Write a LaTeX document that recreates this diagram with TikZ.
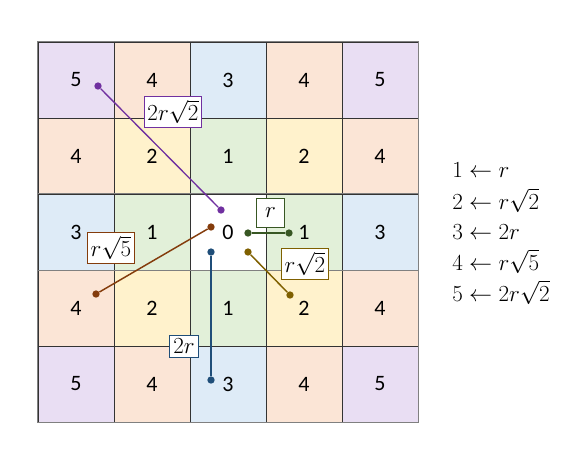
\documentclass[tikz,border=0pt]{standalone}
\usepackage{fontspec}
\setsansfont{Carlito}
\usepackage{tikz}
\usetikzlibrary{calc}
\definecolor{lvl0}{HTML}{FFFFFF}
\definecolor{lvl1}{HTML}{E2F0D9}
\definecolor{lvl2}{HTML}{FFF2CC}
\definecolor{lvl3}{HTML}{DEEBF7}
\definecolor{lvl4}{HTML}{FBE5D6}
\definecolor{lvl5}{HTML}{E9DEF3}
\definecolor{lnPurple}{HTML}{7030A0}
\definecolor{lnGreen}{HTML}{385723}
\definecolor{lnOlive}{HTML}{7F6000}
\definecolor{lnBrown}{HTML}{843C0C}
\definecolor{lnBlue}{HTML}{1F4E79}
\tikzset{
  cell/.style={rectangle, draw=black!80, line width=0.75pt, minimum size=57pt, inner sep=0pt, font=\sffamily\fontsize{16.5}{19}\selectfont},
  frame/.style={draw=black!50, line width=1.1pt},
  tag/.style={rectangle, fill=white, draw=#1, line width=0.75pt, inner sep=2.5pt, font=\fontsize{17.5}{20}\selectfont},
  link/.style={draw=#1, line width=1.1pt},
  dot/.style={circle, fill=#1, inner sep=0pt, minimum size=5.5pt},
  key/.style={anchor=base west, inner sep=0pt, font=\fontsize{17.5}{20}\selectfont}
}

\begin{document}
\begin{tikzpicture}[x=0.75pt, y=-0.75pt]
  \useasboundingbox (0,0) rectangle (577,455);
  % distance grid
  \foreach \vals [count=\r from 0] in {{5,4,3,4,5},{4,2,1,2,4},{3,1,0,1,3},{4,2,1,2,4},{5,4,3,4,5}}
    \foreach \v [count=\c from 0] in \vals
      \node[cell, fill=lvl\v] (c\r\c) at ({76+76*\c}, {80+76*\r}) {\v};
  \draw[frame] (c20.north west) rectangle (c24.south east);
  \draw[frame] (c00.north west) rectangle (c44.south east);

  % end points
  \node[dot=lnPurple] (pA) at (98,86) {};
  \node[dot=lnPurple] (pB) at (221,210) {};
  \node[dot=lnBrown] (bA) at (211,227) {};
  \node[dot=lnBrown] (bB) at (96,294) {};
  \node[dot=lnBlue] (uA) at (211,252) {};
  \node[dot=lnBlue] (uB) at (211,380) {};
  \node[dot=lnGreen] (gA) at (248,233) {};
  \node[dot=lnGreen] (gB) at (289,233) {};
  \node[dot=lnOlive] (oA) at (248,252) {};
  \node[dot=lnOlive] (oB) at (290,295) {};

  \draw[link=lnPurple, line width=1pt] (pA) -- (pB);
  \draw[link=lnBrown] (bA) -- (bB);
  \draw[link=lnBlue, line width=1.7pt] (uA) -- (uB);
  \draw[link=lnGreen, line width=1.7pt] (gA) -- (gB);
  \draw[link=lnOlive] (oA) -- (oB);

  % distance labels
  \node[tag=lnPurple] (tFive) at (173,112) {$2r\sqrt{2}$};
  \node[tag=lnGreen, minimum width=21pt, minimum height=22pt] (tOne) at (270.5,213) {$r$};
  \node[tag=lnOlive] (tTwo) at (305,264) {$r\sqrt{2}$};
  \node[tag=lnBrown] (tFour) at (111,248) {$r\sqrt{5}$};
  \node[tag=lnBlue] (tThree) at (184,346.5) {$2r$};

  % legend
  \node[key] (kOne) at (452,177) {$1 \leftarrow r$};
  \node[key] (kTwo) at (452,209) {$2 \leftarrow r\sqrt{2}$};
  \node[key] (kThree) at (452,239) {$3 \leftarrow 2r$};
  \node[key] (kFour) at (452,270) {$4 \leftarrow r\sqrt{5}$};
  \node[key] (kFive) at (452,301) {$5 \leftarrow 2r\sqrt{2}$};
\end{tikzpicture}
\end{document}
